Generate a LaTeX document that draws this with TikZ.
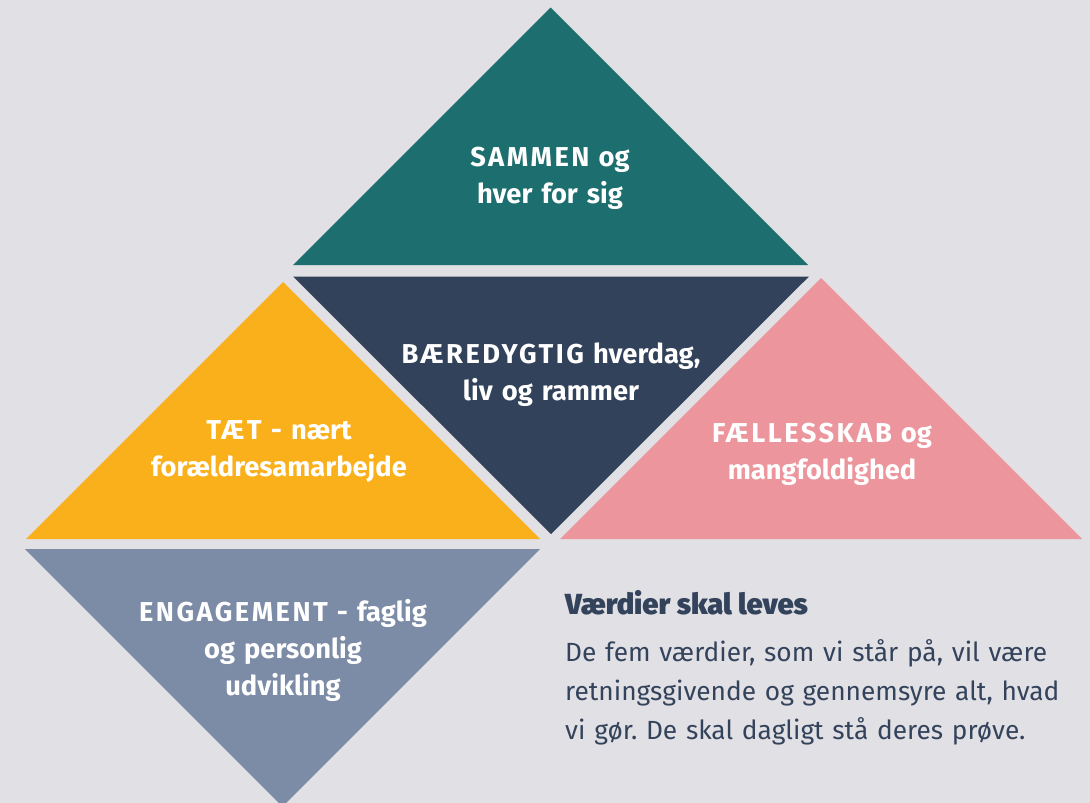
\documentclass[tikz,border=0pt]{standalone}
\usepackage{fontspec}
\setmainfont{Fira Sans}
\newfontfamily\heavyfont{Fira Sans Black}
\newcommand{\spc}[1]{{\addfontfeature{LetterSpace=9}#1}}
\definecolor{bgc}{HTML}{E1E0E4}
\definecolor{tealc}{HTML}{1D6E6E}
\definecolor{navyc}{HTML}{32425A}
\definecolor{yellowc}{HTML}{F9B01B}
\definecolor{pinkc}{HTML}{EC959C}
\definecolor{slatec}{HTML}{7C8BA6}
\definecolor{textc}{HTML}{34435C}
\tikzset{
  lbl/.style={text=white, font=\bfseries\fontsize{27.3}{37}\selectfont, align=center, text width=400pt, anchor=base, inner sep=0pt},
  head/.style={text=textc, font=\heavyfont\fontsize{29}{34}\selectfont, anchor=base west, inner sep=0pt},
  body/.style={text=textc, font=\fontsize{26.3}{39}\selectfont\frenchspacing, align=left, text width=540pt, anchor=base west, inner sep=0pt}
}
\begin{document}
\begin{tikzpicture}[x=1pt,y=-1pt]
\fill[bgc] (0,0) rectangle (1090,803);
\useasboundingbox (0,0) rectangle (1090,803);
% triangles
\fill[tealc] (550.5,7.5) -- (808,265) -- (293,265) -- cycle;
\fill[navyc] (293,276.5) -- (809,276.5) -- (551,534) -- cycle;
\fill[yellowc] (283,282) -- (540,539) -- (26,539) -- cycle;
\fill[pinkc] (821,278) -- (1082,539) -- (560,539) -- cycle;
\fill[slatec] (25,549) -- (540,549) -- (282.5,806.5) -- cycle;
% labels
\node[lbl] (sammen) at (550,166) {\spc{SAMMEN} og\\hver for sig};
\node[lbl] (baere) at (551,363) {\spc{BÆREDYGTIG} hverdag,\\liv og rammer};
\node[lbl] (taet) at (279,439) {\spc{TÆT} - nært\\forældresamarbejde};
\node[lbl] (faelles) at (822,442) {\spc{FÆLLESSKAB} og\\mangfoldighed};
\node[lbl] (engage) at (283,621) {\spc{ENGAGEMENT} - faglig\\og personlig\\udvikling};
% text
\node[head] (heading) at (565,614) {Værdier skal leves};
\node[body] (bodytext) at (565,661) {De fem værdier, som vi står på, vil være\\retningsgivende og gennemsyre alt, hvad\\vi gør. De skal dagligt stå deres prøve.};
\end{tikzpicture}
\end{document}
